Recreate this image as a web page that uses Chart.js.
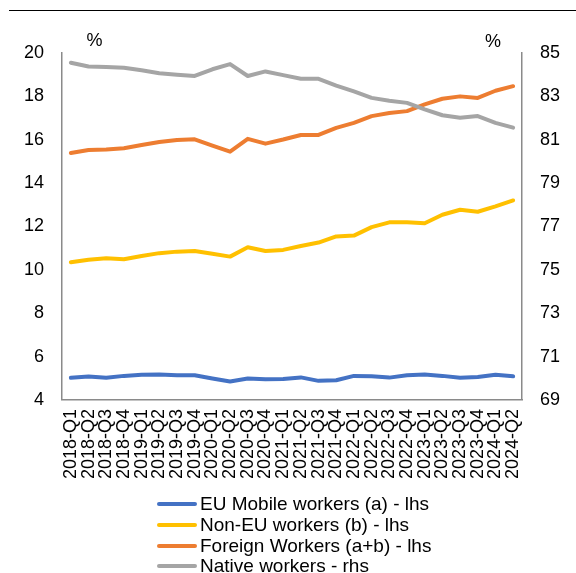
<!DOCTYPE html>
<html>
<head>
<meta charset="utf-8">
<script src="https://cdn.jsdelivr.net/npm/chart.js@4.4.1/dist/chart.umd.min.js"></script>
<style>
  html, body { margin: 0; padding: 0; background: #fff; }
  #wrap { position: relative; width: 576px; height: 573px; overflow: hidden; font-family: 'Liberation Sans', Arial, sans-serif; }
  #c { position: absolute; left: 0; top: 0; }
  #topline { position: absolute; left: 9px; top: 10px; width: 567px; height: 1px; background: #000; }
  #legend { position: absolute; left: 157px; top: 494px; }
  .lg-row { height: 20.7px; display: flex; align-items: center; white-space: nowrap; }
  .lg-line { width: 40px; height: 4px; border-radius: 2px; margin-right: 3px; }
  .lg-text { font-size: 19px; color: #000; line-height: 20px; }
</style>
</head>
<body>
<div id="wrap">
  <div id="topline"></div>
  <canvas id="c" width="576" height="573"></canvas>
  <div id="legend"></div>
</div>
<script>
const categories = ["2018-Q1","2018-Q2","2018-Q3","2018-Q4","2019-Q1","2019-Q2","2019-Q3","2019-Q4","2020-Q1","2020-Q2","2020-Q3","2020-Q4","2021-Q1","2021-Q2","2021-Q3","2021-Q4","2022-Q1","2022-Q2","2022-Q3","2022-Q4","2023-Q1","2023-Q2","2023-Q3","2023-Q4","2024-Q1","2024-Q2"];
const euMobile = [5.02,5.08,5.02,5.11,5.16,5.17,5.14,5.14,4.99,4.85,4.99,4.95,4.97,5.04,4.88,4.91,5.11,5.09,5.03,5.14,5.17,5.11,5.02,5.06,5.16,5.09];
const nonEu = [10.35,10.47,10.53,10.49,10.64,10.77,10.84,10.87,10.74,10.61,11.04,10.87,10.92,11.10,11.26,11.54,11.58,11.97,12.19,12.19,12.15,12.54,12.77,12.68,12.93,13.20];
const foreign = [15.39,15.53,15.55,15.61,15.76,15.90,15.99,16.02,15.73,15.45,16.04,15.82,16.01,16.22,16.22,16.55,16.78,17.09,17.23,17.32,17.63,17.89,18.00,17.93,18.26,18.47];
const native = [84.55,84.38,84.35,84.32,84.20,84.07,84.00,83.94,84.25,84.49,83.94,84.15,83.98,83.81,83.81,83.50,83.23,82.93,82.80,82.70,82.40,82.13,82.01,82.09,81.78,81.56];
const leftTicks = [4,6,8,10,12,14,16,18,20];
const rightTicks = [69,71,73,75,77,79,81,83,85];
const seriesNames = ["EU Mobile workers (a) - lhs","Non-EU workers (b) - lhs","Foreign Workers (a+b) - lhs","Native workers - rhs"];
const seriesColors = ["#4472C4","#FFC000","#ED7D31","#A5A5A5"];

const FONT = "'Liberation Sans', Arial, sans-serif";
const AXIS = "#8a8a8a";

function ds(i, data, axis, order) {
  return {
    label: seriesNames[i], data: data, yAxisID: axis,
    borderColor: seriesColors[i], backgroundColor: seriesColors[i],
    borderWidth: 4, pointRadius: 0, pointHoverRadius: 0, tension: 0,
    borderJoinStyle: 'round', borderCapStyle: 'round', fill: false, order: order
  };
}

const pctPlugin = {
  id: 'pct',
  afterDraw(chart) {
    const ctx = chart.ctx, a = chart.chartArea;
    ctx.save();
    ctx.font = "18px " + FONT;
    ctx.fillStyle = "#000";
    ctx.textAlign = "center";
    ctx.textBaseline = "middle";
    ctx.fillText("%", a.left + 32.5, 41);
    ctx.fillText("%", a.right - 29, 42);
    ctx.restore();
  }
};

const chart = new Chart(document.getElementById('c'), {
  type: 'line',
  data: {
    labels: categories,
    datasets: [
      ds(0, euMobile, 'y', 4),
      ds(1, nonEu, 'y', 3),
      ds(2, foreign, 'y', 2),
      ds(3, native, 'y1', 1)
    ]
  },
  options: {
    responsive: false,
    animation: false,
    events: [],
    layout: { padding: { left: 24, right: 16, top: 53, bottom: 85 } },
    plugins: { legend: { display: false }, tooltip: { enabled: false } },
    scales: {
      x: {
        type: 'category', offset: true,
        afterFit(s) { s.paddingLeft = 0; s.paddingRight = 0; },
        grid: { display: false, drawTicks: false },
        border: { display: true, color: AXIS, width: 1.5 },
        ticks: { autoSkip: false, minRotation: 90, maxRotation: 90, padding: 9, color: '#000', font: { family: FONT, size: 18 } }
      },
      y: {
        position: 'left', min: 4, max: 20,
        afterBuildTicks(s) { s.ticks = leftTicks.map(v => ({ value: v })); },
        afterFit(s) { s.width = 38; },
        grid: { display: false, drawTicks: false },
        border: { display: true, color: AXIS, width: 1.5 },
        ticks: { padding: 18, color: '#000', font: { family: FONT, size: 18 } }
      },
      y1: {
        position: 'right', min: 69, max: 85,
        afterBuildTicks(s) { s.ticks = rightTicks.map(v => ({ value: v })); },
        afterFit(s) { s.width = 38; },
        grid: { display: false, drawTicks: false },
        border: { display: true, color: AXIS, width: 1.5 },
        ticks: { padding: 18, color: '#000', font: { family: FONT, size: 18 } }
      }
    }
  },
  plugins: [pctPlugin]
});

const lg = document.getElementById('legend');
chart.data.datasets.forEach(d => {
  const row = document.createElement('div'); row.className = 'lg-row';
  const ln = document.createElement('span'); ln.className = 'lg-line'; ln.style.background = d.borderColor;
  const tx = document.createElement('span'); tx.className = 'lg-text'; tx.textContent = d.label;
  row.appendChild(ln); row.appendChild(tx); lg.appendChild(row);
});
</script>
</body>
</html>
